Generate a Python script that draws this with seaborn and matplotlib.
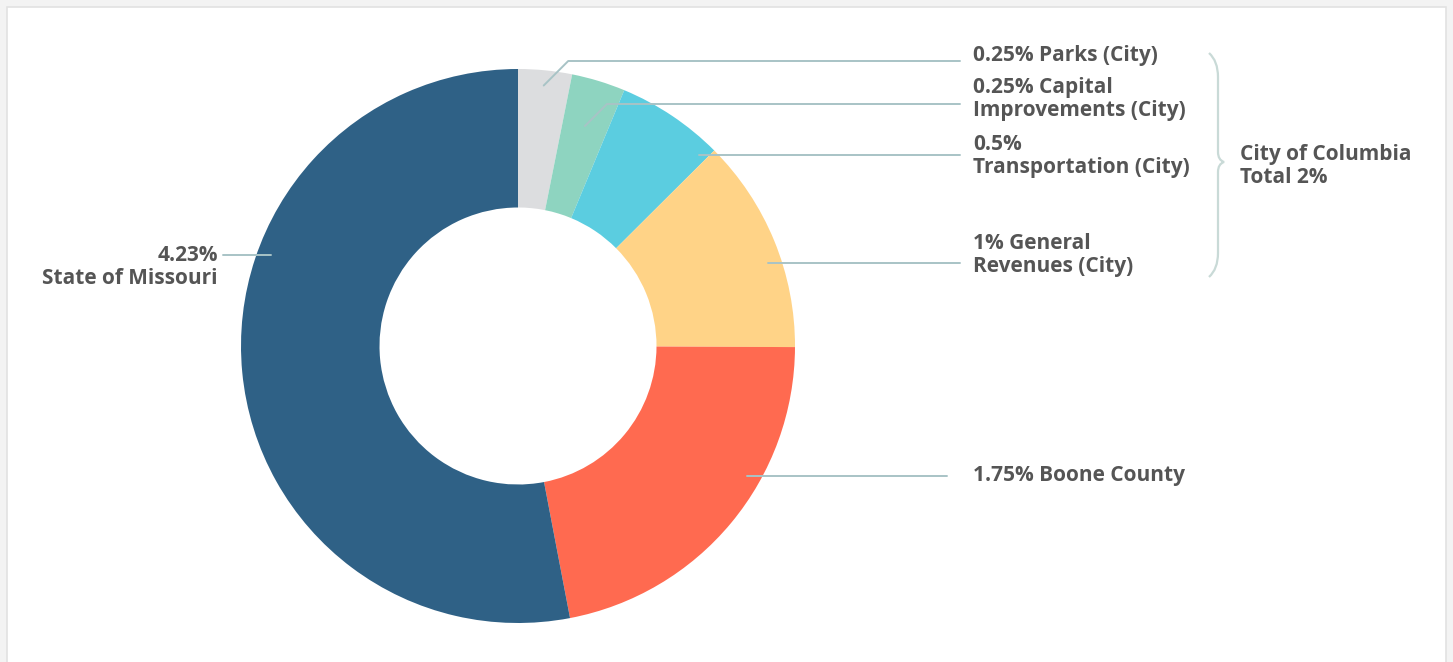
import numpy as np
import matplotlib.pyplot as plt
import seaborn as sns
from matplotlib.patches import Rectangle, PathPatch
from matplotlib.path import Path

# sales tax components (percent), clockwise from 12 o'clock
labels = [
    "0.25% Parks (City)",
    "0.25% Capital\nImprovements (City)",
    "0.5%\nTransportation (City)",
    "1% General\nRevenues (City)",
    "1.75% Boone County",
    "4.23%\nState of Missouri",
]
rates = [0.25, 0.25, 0.5, 1.0, 1.75, 4.23]
colors = ["#DCDDDF", "#8ED4C0", "#5BCDE0", "#FFD387", "#FF6A50", "#2F6186"]
group_label = "City of Columbia\nTotal 2%"

sns.set_theme(style="white")
plt.rcParams['font.family'] = ['Open Sans', 'DejaVu Sans']

W, H = 1453, 662
fig = plt.figure(figsize=(W / 100, H / 100), dpi=100)
fig.patch.set_facecolor("#F3F3F3")

# pie geometry in pixels
cx, cy, R = 518, 346, 277

# background card
bg = fig.add_axes([0, 0, 1, 1], zorder=0)
bg.set_xlim(0, W)
bg.set_ylim(H, 0)
bg.axis("off")
bg.add_patch(Rectangle((7, 7), W - 14, H, facecolor="white",
                       edgecolor="#E2E2E2", lw=1.2))

# donut
ax = fig.add_axes([(cx - R) / W, (H - cy - R) / H, 2 * R / W, 2 * R / H], zorder=1)
wedges, _ = ax.pie(rates, colors=colors, startangle=90, counterclock=False,
                   radius=1, wedgeprops=dict(width=0.5, edgecolor="none"))
ax.set_xlim(-1, 1)
ax.set_ylim(-1, 1)
ax.set_aspect("equal")
ax.axis("off")

# overlay for labels, in pixel coords
ov = fig.add_axes([0, 0, 1, 1], zorder=2)
ov.set_xlim(0, W)
ov.set_ylim(H, 0)
ov.axis("off")

line_col = "#A8C3C6"
text_col = "#555555"
fs = 15
ls = 1.12

# layout: (text y, leader y, elbow radius fraction or None, line end x)
layout = [
    (55, 61, 0.945, 960),
    (99, 104, 0.83, 960),
    (156, 155, None, 960),
    (255, 263, None, 960),
    (475, 476, None, 947),
    (267, 255, None, 223),
]

for w, lab, (ty, ly, elb, xend) in zip(wedges, labels, layout):
    mid = np.deg2rad((w.theta1 + w.theta2) / 2)
    right = np.cos(mid) > 0
    if elb is not None:
        sx = cx + elb * R * np.cos(mid)
        sy = cy - elb * R * np.sin(mid)
        ex = sx + (sy - ly)
        ov.plot([sx, ex, xend], [sy, ly, ly], color=line_col, lw=1.4)
    else:
        dx = np.sqrt((0.95 * R) ** 2 - (ly - cy) ** 2)
        sx = cx + dx if right else cx - dx
        ov.plot([sx, xend], [ly, ly], color=line_col, lw=1.4)
    if right:
        ov.text(973, ty, lab, ha="left", va="center", fontsize=fs,
                fontweight="bold", color=text_col, linespacing=ls)
    else:
        ov.text(218, ty, lab, ha="right", va="center", fontsize=fs,
                fontweight="bold", color=text_col, linespacing=ls)

# curly brace grouping the city taxes
bx, top, bot, tip = 1218, 53, 277, 162
verts = [(1209, top), (bx, top + 8), (bx, top + 24),
         (bx, tip - 10), (bx, tip - 2), (bx + 6, tip),
         (bx, tip + 2), (bx, tip + 10),
         (bx, bot - 24), (bx, bot - 8), (1209, bot)]
codes = [Path.MOVETO, Path.CURVE3, Path.CURVE3,
         Path.LINETO, Path.CURVE3, Path.CURVE3,
         Path.CURVE3, Path.CURVE3,
         Path.LINETO, Path.CURVE3, Path.CURVE3]
ov.add_patch(PathPatch(Path(verts, codes), facecolor="none",
                       edgecolor="#C9DAD7", lw=1.6))
ov.text(1240, 166, group_label, ha="left", va="center", fontsize=fs,
        fontweight="bold", color=text_col, linespacing=ls)

plt.savefig("out.png", dpi=100, facecolor=fig.get_facecolor())
